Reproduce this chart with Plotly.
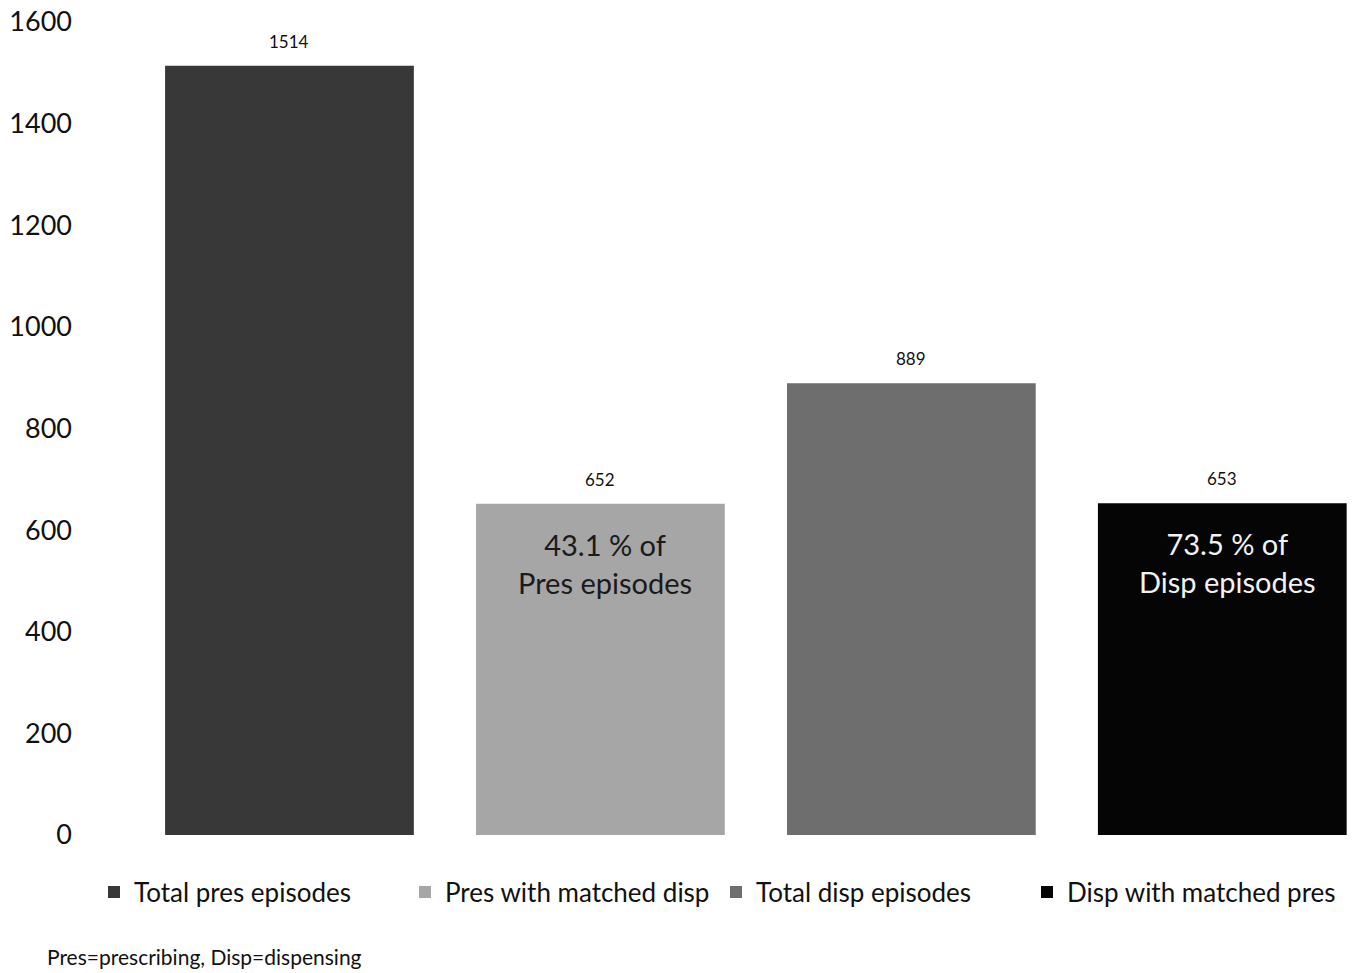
import plotly.graph_objects as go

categories = ["Total pres episodes", "Pres with matched disp", "Total disp episodes", "Disp with matched pres"]
values = [1514, 652, 889, 653]
bar_colors = ["#383838", "#a6a6a6", "#6e6e6e", "#050505"]
inner_labels = ["", "43.1 % of<br>Pres episodes", "", "73.5 % of<br>Disp episodes"]
inner_colors = ["#ffffff", "#1a1a1a", "#ffffff", "#f2f2f2"]
y_ticks = [0, 200, 400, 600, 800, 1000, 1200, 1400, 1600]
footnote = "Pres=prescribing, Disp=dispensing"

FONT = "Lato, 'Open Sans', sans-serif"

fig = go.Figure()
for cat, val, col in zip(categories, values, bar_colors):
    fig.add_trace(go.Bar(
        x=[cat], y=[val], name=cat, marker=dict(color=col, line=dict(width=0)),
        width=0.8, showlegend=True, hoverinfo="x+y",
    ))

annotations = []
for cat, val in zip(categories, values):
    annotations.append(dict(
        x=cat, y=val, xref="x", yref="y", text=str(val), showarrow=False,
        yanchor="bottom", yshift=12, font=dict(family=FONT, size=17, color="#111111"),
    ))
for cat, val, lab, tc in zip(categories, values, inner_labels, inner_colors):
    if lab:
        annotations.append(dict(
            x=cat, y=val, xref="x", yref="y", text=lab, showarrow=False,
            yanchor="top", yshift=-21, xshift=5, align="center",
            font=dict(family=FONT, size=29, color=tc),
        ))
annotations.append(dict(
    x=(45 - 134) / 1222, y=(835 - 956) / 813, xref="paper", yref="paper", text=footnote,
    showarrow=False, xanchor="left", yanchor="middle",
    font=dict(family=FONT, size=21, color="#111111"),
))

fig.update_layout(
    width=1356, height=973,
    margin=dict(l=134, r=0, t=22, b=138, autoexpand=False),
    paper_bgcolor="white", plot_bgcolor="white",
    barmode="overlay",
    font=dict(family=FONT, color="#111111"),
    xaxis=dict(
        categoryorder="array", categoryarray=categories,
        range=[-0.5, 3.43], showticklabels=False, showgrid=False,
        zeroline=False, showline=False, ticks="",
    ),
    yaxis=dict(
        range=[0, 1600], tickvals=y_ticks, showgrid=False, zeroline=False,
        showline=False, ticks="", ticklabelstandoff=61,
        tickfont=dict(family=FONT, size=27, color="#111111"),
    ),
    legend=dict(
        orientation="h", xref="paper", yref="paper",
        x=(94 - 134) / 1222, y=(835 - 892) / 813, xanchor="left", yanchor="middle",
        font=dict(family=FONT, size=26, color="#111111"),
        itemwidth=30, tracegroupgap=0,
        entrywidth=266, entrywidthmode="pixels",
    ),
    annotations=annotations,
    showlegend=True,
)

fig.write_html("out.html")
